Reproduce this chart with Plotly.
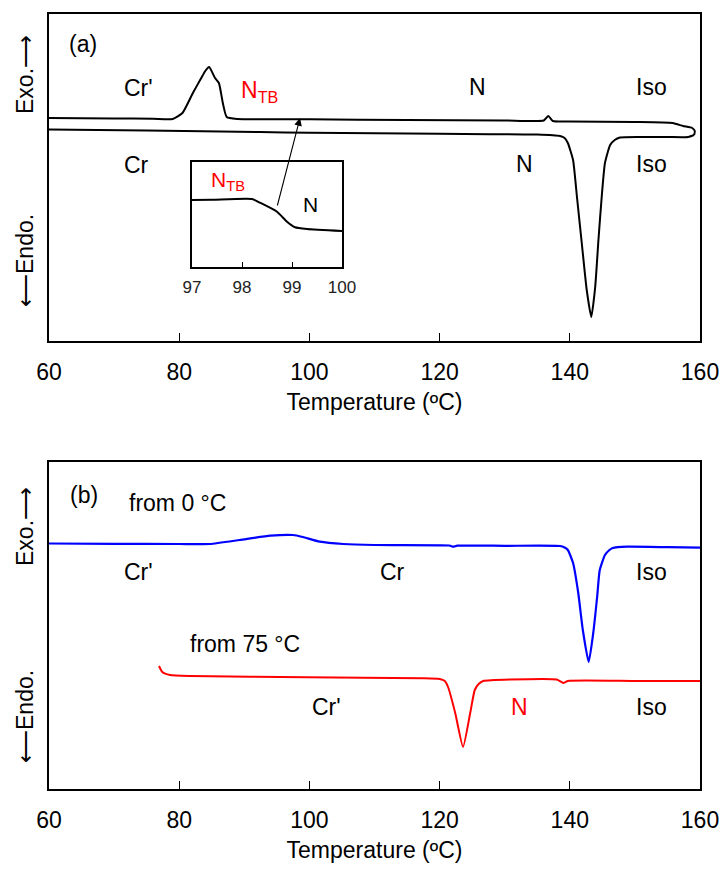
import plotly.graph_objects as go

# ---------------- data (temperature in °C, heat flow in arbitrary units) -------------
# Panel (a): heating trace (lower, endothermic melting peak)
heat_a_T = [60, 75, 92.4, 100, 120, 135, 138.5, 139.2, 139.7, 140.5, 141.1, 141.9, 142.6, 143.3,
            143.9, 144.4, 144.9, 145.4, 146.2, 146.9, 147.7, 150.8, 155, 158.2, 159.1]
heat_a_y = [21.15, 21.05, 20.9, 20.82, 20.72, 20.65, 20.5, 20.3, 19.8, 18.1, 14.4, 9.4, 5.1, 2.4,
            5.4, 10.1, 14.4, 17.8, 19.6, 20.1, 20.35, 20.4, 20.4, 20.4, 20.6]
# Panel (a): cooling trace (upper, exothermic crystallisation peak)
cool_a_T = [159.1, 159.2, 158.8, 157.4, 155.8, 150, 140, 137.4, 136.7, 136.0, 130, 115, 100,
            88.9, 87.3, 86.7, 86.1, 85.5, 84.6, 84.0, 83.3, 82.1, 80.5, 79.0, 76, 70, 60]
cool_a_y = [20.6, 21.0, 21.3, 21.5, 21.8, 21.9, 21.95, 22.0, 22.5, 22.05, 22.05, 22.1, 22.17,
            22.2, 22.4, 23.8, 25.8, 26.3, 27.4, 27.0, 26.2, 24.8, 22.8, 22.2, 22.23, 22.25, 22.3]
# Inset: N_TB -> N transition
inset_T = [97.0, 97.42, 98.2, 98.36, 98.7, 98.9, 99.06, 99.3, 100.0]
inset_y = [6.7, 6.73, 6.8, 6.43, 5.53, 4.53, 3.97, 3.8, 3.6]

# Panel (b): second heating runs
blue_T = [60, 70, 80, 84.7, 89.3, 94.0, 97.5, 99.0, 101.6, 105.2, 110, 121.5, 122.1, 122.7,
          130, 138.5, 139.2, 139.7, 140.5, 141.3, 142.0, 142.9, 143.6, 144.2, 144.6, 145.4,
          146.0, 146.6, 148.8, 155, 160]
blue_y = [24.55, 24.52, 24.5, 24.5, 24.9, 25.33, 25.4, 25.2, 24.73, 24.5, 24.4, 24.35, 24.23,
          24.33, 24.32, 24.3, 24.15, 23.9, 22.6, 19.6, 15.9, 12.7, 15.6, 19.2, 21.9, 23.4,
          23.85, 24.1, 24.23, 24.18, 24.13]
red_T = [76.9, 77.4, 78.6, 81.7, 99.6, 117.4, 120.0, 120.8, 121.3, 122.4, 123.6, 124.7, 125.4,
         126.0, 126.7, 130.8, 138.0, 139.0, 139.7, 150, 160]
red_y = [12.3, 11.7, 11.4, 11.3, 11.17, 11.07, 11.0, 10.8, 10.2, 7.6, 4.2, 7.6, 9.9,
         10.5, 10.8, 10.95, 10.95, 10.6, 10.8, 10.8, 10.8]

x_ticks = [60, 80, 100, 120, 140, 160]
inset_ticks = [97, 98, 99, 100]

FONT = "Liberation Sans, Arial, sans-serif"
W, H = 727, 871

def px_x(p):
    return p / W

def px_y(p):
    return 1 - p / H

fig = go.Figure()
line_style = dict(shape="spline", smoothing=0.5)
fig.add_trace(go.Scatter(x=heat_a_T, y=heat_a_y, mode="lines", xaxis="x", yaxis="y",
                         line=dict(color="black", width=2, **line_style)))
fig.add_trace(go.Scatter(x=cool_a_T, y=cool_a_y, mode="lines", xaxis="x", yaxis="y",
                         line=dict(color="black", width=2, **line_style)))
fig.add_trace(go.Scatter(x=inset_T, y=inset_y, mode="lines", xaxis="x3", yaxis="y3",
                         line=dict(color="black", width=2, **line_style)))
fig.add_trace(go.Scatter(x=blue_T, y=blue_y, mode="lines", xaxis="x2", yaxis="y2",
                         line=dict(color="#0000ff", width=2.2, **line_style)))
fig.add_trace(go.Scatter(x=red_T, y=red_y, mode="lines", xaxis="x2", yaxis="y2",
                         line=dict(color="#ff0000", width=2, **line_style)))

xdom = [px_x(49), px_x(700)]
common_x = dict(range=[60, 160], tickvals=x_ticks, ticks="inside", ticklen=8, tickwidth=1.2,
                tickcolor="black", showline=True, linewidth=2.2, linecolor="black", mirror=True,
                showgrid=False, zeroline=False, automargin=False, ticklabelstandoff=9,
                tickfont=dict(family=FONT, size=23, color="black"),
                title=dict(text="Temperature (ºC)", font=dict(family=FONT, size=23, color="black"),
                           standoff=10))
common_y = dict(range=[0, 32.7], showticklabels=False, ticks="", showline=True, linewidth=2.2,
                linecolor="black", mirror=True, showgrid=False, zeroline=False, automargin=False)

fig.update_layout(
    template="none",
    width=W, height=H, margin=dict(l=0, r=0, t=0, b=0, autoexpand=False),
    paper_bgcolor="white", plot_bgcolor="white", showlegend=False,
    xaxis=dict(domain=xdom, anchor="y", **common_x),
    yaxis=dict(domain=[px_y(341), px_y(14)], anchor="x", **common_y),
    xaxis2=dict(domain=xdom, anchor="y2", **common_x),
    yaxis2=dict(domain=[px_y(789), px_y(462)], anchor="x2", **common_y),
    xaxis3=dict(domain=[px_x(192), px_x(342)], anchor="y3", range=[97, 100],
                tickvals=inset_ticks, ticks="inside", ticklen=5, tickwidth=1.2, tickcolor="black",
                showline=True, linewidth=2, linecolor="black", mirror=True, showgrid=False,
                zeroline=False, automargin=False, ticklabelstandoff=4,
                tickfont=dict(family=FONT, size=17, color="#222")),
    yaxis3=dict(domain=[px_y(267), px_y(162)], anchor="x3", range=[0, 10.5],
                showticklabels=False, ticks="", showline=True, linewidth=2, linecolor="black",
                mirror=True, showgrid=False, zeroline=False, automargin=False),
)

def label(x, y, text, ref, color="black", size=23):
    fig.add_annotation(x=x, y=y, xref="x" + ref, yref="y" + ref, text=text, showarrow=False,
                       font=dict(family=FONT, size=size, color=color),
                       xanchor="center", yanchor="middle")

# panel (a)
label(65.2, 29.7, "(a)", "")
label(73.7, 25.3, "Cr'", "")
label(92.4, 25.0, "N<sub>TB</sub>", "", color="#ff0000")
label(125.8, 25.4, "N", "")
label(152.6, 25.4, "Iso", "")
label(73.5, 17.6, "Cr", "")
label(133.0, 17.7, "N", "")
label(152.6, 17.7, "Iso", "")
# inset
label(97.72, 8.6, "N<sub>TB</sub>", "3", color="#ff0000", size=21)
label(99.36, 6.2, "N", "3", size=21)
# arrow from inset to cooling curve
fig.add_annotation(x=98.56, y=22.3, xref="x", yref="y", ax=95.02, ay=13.4, axref="x", ayref="y",
                   text="", showarrow=True, arrowhead=2, arrowsize=1.4, arrowwidth=1.1,
                   arrowcolor="black")
# panel (b)
label(65.4, 29.4, "(b)", "2")
label(79.8, 28.6, "from 0 °C", "2")
label(73.7, 21.7, "Cr'", "2")
label(112.7, 21.7, "Cr", "2")
label(152.6, 21.7, "Iso", "2")
label(90.1, 14.5, "from 75 °C", "2")
label(102.7, 8.2, "Cr'", "2")
label(132.3, 8.2, "N", "2", color="#ff0000")
label(152.6, 8.2, "Iso", "2")

# y-axis direction labels
for yc, txt in [(75, "Exo.⟶"), (261, "⟵Endo."), (527, "Exo.⟶"), (717, "⟵Endo.")]:
    fig.add_annotation(x=px_x(25), y=px_y(yc), xref="paper", yref="paper", text=txt,
                       showarrow=False, textangle=-90,
                       font=dict(family=FONT, size=23, color="black"),
                       xanchor="center", yanchor="middle")

fig.write_html("out.html")
